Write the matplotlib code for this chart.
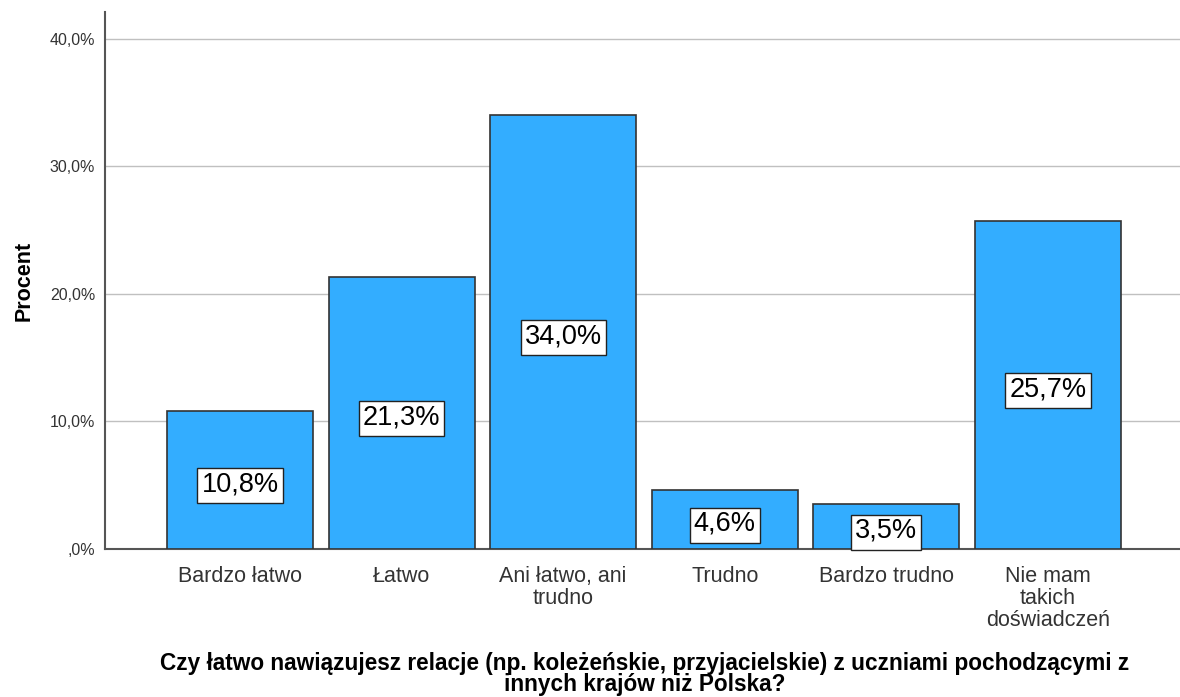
import matplotlib.pyplot as plt
from matplotlib.patches import Rectangle

plt.rcParams['font.family'] = ['Liberation Sans', 'DejaVu Sans']

kategorie = ['Bardzo łatwo', 'Łatwo', 'Ani łatwo, ani\ntrudno', 'Trudno',
             'Bardzo trudno', 'Nie mam\ntakich\ndoświadczeń']
procenty = [10.8, 21.3, 34.0, 4.6, 3.5, 25.7]
etykiety_y = [',0%', '10,0%', '20,0%', '30,0%', '40,0%']
wartosci_y = [0, 10, 20, 30, 40]

fig = plt.figure(figsize=(11.8, 6.97), dpi=100)
ax = fig.add_axes([0.089, 0.2123, 0.911, 0.7705])

x = list(range(len(kategorie)))
bars = ax.bar(x, procenty, width=0.903, color='#33adff', edgecolor='#333333',
              linewidth=1.2, zorder=3)

# etykiety z wartościami w środku słupków
teksty = []
for bar, v in zip(bars, procenty):
    t = ax.annotate(f'{v:.1f}%'.replace('.', ','),
                    (bar.get_x() + bar.get_width() / 2, v / 2),
                    xytext=(0, -3), textcoords='offset points',
                    ha='center', va='center', fontsize=19.5, color='black', zorder=5)
    teksty.append(t)

ax.set_xlim(-0.835, 5.817)
ax.set_ylim(0, 42.1)
ax.set_yticks(wartosci_y)
ax.set_yticklabels(etykiety_y, fontsize=11.5, color='#333333')
ax.set_xticks(x)
ax.set_xticklabels(kategorie, fontsize=15.5, color='#333333', linespacing=1.08)
ax.tick_params(axis='x', length=0, pad=12)
ax.tick_params(axis='y', length=0, pad=7)

ax.grid(axis='y', color='#c0c0c0', linewidth=1, zorder=0)
for s in ['top', 'right']:
    ax.spines[s].set_visible(False)
for s in ['left', 'bottom']:
    ax.spines[s].set_color('#555555')
    ax.spines[s].set_linewidth(1.5)

ax.set_ylabel('Procent', fontsize=15.5, fontweight='bold', labelpad=11)
fig.text(0.546, 0.033,
         'Czy łatwo nawiązujesz relacje (np. koleżeńskie, przyjacielskie) z uczniami pochodzącymi z\ninnych krajów niż Polska?',
         ha='center', va='center', fontsize=16.3, fontweight='bold', linespacing=0.92)

# białe ramki wokół etykiet (szerszy margines w pionie niż w poziomie)
fig.canvas.draw()
inv = ax.transData.inverted()
for t in teksty:
    bb = t.get_window_extent()
    (x0, y0), (x1, y1) = inv.transform([(bb.x0 - 4, bb.y0 - 6), (bb.x1 + 4, bb.y1 + 3)])
    ax.add_patch(Rectangle((x0, y0), x1 - x0, y1 - y0, fc='white', ec='#222222',
                           lw=1, zorder=4, clip_on=False))

fig.savefig('out.png', dpi=100)
